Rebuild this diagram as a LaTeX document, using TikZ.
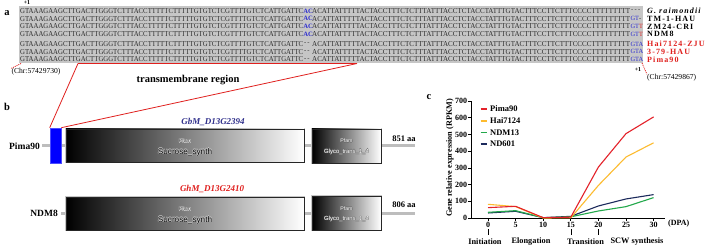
\documentclass[tikz,border=0pt]{standalone}
\usepackage{fontspec}
\setmainfont{Liberation Serif}
\newfontfamily\arialfont{Liberation Sans}
\newfontfamily\spacedfont[LetterSpace=14]{Liberation Serif}
\usetikzlibrary{calc}
\definecolor{seqgray}{HTML}{C6C6C6}
\definecolor{seqtext}{HTML}{2C2C2C}
\definecolor{acblue}{HTML}{2A2AD0}
\definecolor{lblred}{HTML}{E0201E}
\definecolor{gbblue}{HTML}{30308C}
\definecolor{bbgray}{HTML}{BDBDBD}
\definecolor{cred}{HTML}{E4222A}
\definecolor{cyel}{HTML}{FDBB2F}
\definecolor{cgreen}{HTML}{22A84A}
\definecolor{cnavy}{HTML}{1C2A5C}
\newcommand{\seqA}{GTAAAGAAGCTTGACTTGGGTCTTTACCTTTTTCTTTTTGTGTCTCGTTTTGTCTCATTGATTC}
\newcommand{\seqB}{ACATTATTTTTACTACCTTTCTCTTTATTTACCTCTACCTATTTGTACTTTCCTTCTTTCCCCTTTTTTTTT}
\newcommand{\halotxt}[3]{%
  \makebox[0pt][l]{\color{#1}\kern-0.4pt #3}%
  \makebox[0pt][l]{\color{#1}\kern0.4pt #3}%
  \makebox[0pt][l]{\color{#1}\raisebox{0.4pt}{#3}}%
  \makebox[0pt][l]{\color{#1}\raisebox{-0.4pt}{#3}}%
  {\color{#2}#3}}
\tikzset{
  seqpart/.style={inner sep=0pt, text=seqtext, font=\fontsize{7}{7}\selectfont, anchor=west},
  seqend/.style={inner sep=0pt, font=\fontsize{6.4}{6.4}\selectfont, anchor=west},
  acmark/.style={inner sep=0pt, font=\fontsize{6.6}{6.6}\selectfont\bfseries, text=acblue, anchor=west},
  dashmark/.style={inner sep=0pt, font=\fontsize{6.6}{6.6}\selectfont, text=seqtext, anchor=west},
  strain/.style={inner sep=0pt, anchor=west, font=\spacedfont\fontsize{8}{8}\selectfont\bfseries},
  panel/.style={inner sep=0pt, font=\fontsize{10.5}{10.5}\selectfont\bfseries},
  chrtxt/.style={inner sep=0pt, font=\fontsize{7.6}{7.6}\selectfont},
  plusone/.style={inner sep=0pt, font=\fontsize{6}{6}\selectfont\bfseries},
  redlink/.style={draw=lblred, line width=0.8pt},
  reddot/.style={draw=lblred, line width=0.8pt, dash pattern=on 1pt off 1pt},
  backbone/.style={draw=bbgray, line width=3pt},
  dombox/.style={inner sep=0pt, left color=black, right color=white, draw=black!85, line width=0.9pt,
     preaction={draw=gray!45, line width=2.8pt}},
  genelbl/.style={inner sep=0pt, font=\fontsize{9.5}{9.5}\selectfont\bfseries},
  genename/.style={inner sep=0pt, font=\fontsize{9}{9}\selectfont\bfseries\itshape},
  aalbl/.style={inner sep=0pt, font=\fontsize{8.5}{8.5}\selectfont\bfseries},
  pfam/.style={inner sep=0pt, font=\arialfont\fontsize{5.2}{5.2}\selectfont},
  domname/.style={inner sep=0pt, font=\arialfont\fontsize{8.2}{8.2}\selectfont},
  domsmall/.style={inner sep=0pt, font=\arialfont\fontsize{5.9}{5.9}\selectfont},
  axlbl/.style={inner sep=0pt, font=\fontsize{8}{8}\selectfont\bfseries},
  leglbl/.style={inner sep=0pt, anchor=west, font=\fontsize{8.5}{8.5}\selectfont\bfseries},
  stagelbl/.style={inner sep=0pt, font=\fontsize{8.3}{8.3}\selectfont\bfseries},
  dataline/.style={line width=1.1pt, line join=round},
}
\begin{document}
\begin{tikzpicture}[x=1pt, y=-1pt]
\useasboundingbox (0,0) rectangle (708,248);
\fill[white] (0,0) rectangle (708,248);
% ---------------- panel a ----------------
\node[panel] (pa) at (7,13) {a};
\fill[seqgray] (19,6) rectangle (643,63.5);
\node[plusone] (p1top) at (27,3) {+1};
\foreach \i/\yy in {1/11,2/18.7,3/26.4,4/34.1,5/44,6/51.7,7/59.4}{
  \node[seqpart] (pre\i) at (20,\yy) {\resizebox{283pt}{5pt}{\seqA}};
  \node[seqpart] (mid\i) at (312,\yy) {\resizebox{318pt}{5pt}{\seqB}};
}
\foreach \i/\yy in {1/11,2/18.7,3/26.4,4/34.1}{
  \node[acmark] (ac\i) at (303.2,\yy) {AC};
}
\foreach \i/\yy in {5/44,6/51.7,7/59.4}{
  \node[dashmark] (dash\i) at (303.8,\yy) {-\kern1.2pt-};
  \node[seqend, text=acblue] (end\i) at (630.3,\yy) {GTA};
}
\node[seqend, text=seqtext] (end1) at (631,11) {-\kern1.3pt-\kern1.3pt-};
\node[seqend] (end2) at (630.3,18.7) {\textcolor{acblue}{GT}\textcolor{seqtext}{-}};
\node[seqend] (end3) at (630.3,26.4) {\textcolor{acblue}{GT}\textcolor{lblred}{T}};
\node[seqend] (end4) at (630.3,34.1) {\textcolor{acblue}{GT}\textcolor{lblred}{T}};
% strain labels
\node[strain] (st1) at (647,11) {\textit{G. raimondii}};
\node[strain] (st2) at (647,18.7) {TM-1-HAU};
\node[strain] (st3) at (647,26.4) {ZM24-CRI};
\node[strain] (st4) at (647,34.1) {NDM8};
\node[strain, text=lblred] (st5) at (647,44) {Hai7124-ZJU};
\node[strain, text=lblred] (st6) at (647,51.7) {3-79-HAU};
\node[strain, text=lblred] (st7) at (647,59.4) {Pima90};
\node[plusone] (p1bot) at (638,70) {+1};
% chromosome positions
\coordinate (cl0) at (21,63.5);
\node[chrtxt] (chrL) at (36,72) {(Chr:57429730)};
\draw[reddot] (cl0) -- (chrL.north west);
\coordinate (cr0) at (642,63);
\node[chrtxt, anchor=west] (chrR) at (647,78) {(Chr:57429867)};
\draw[reddot] (cr0) -- (chrR.north west);
\node[inner sep=0pt, font=\fontsize{10.5}{10.5}\selectfont\bfseries] (tmtxt) at (188,80) {transmembrane region};
% ---------------- panel b ----------------
\node[panel] (pb) at (7,107) {b};
\draw[backbone] (42,146) -- (415,146);
\draw[backbone] (61,213) -- (415,213);
\node[inner sep=0pt, minimum width=11pt, minimum height=35pt, fill=blue, draw=blue!70!white, line width=0.6pt] (tm) at (55.5,145.5) {};
\coordinate (tmL) at (78,63.5);
\coordinate (tmR) at (357,63.5);
\draw[redlink] (tmL) -- (tmR);
\draw[redlink] (tmL) -- (tm.north west);
\draw[redlink] (tmR) -- (tm.north east);
% Pima90 gene
\node[dombox, minimum width=238pt, minimum height=33pt] (pS) at (185,145.5) {};
\node[dombox, minimum width=69pt, minimum height=34pt] (pG) at (346.5,146) {};
\node[pfam] (pSp) at (185,141) {\halotxt{white}{black!85}{Pfam}};
\node[domname] (pSn) at (185,152) {\halotxt{white!85!black}{black}{Sucrose\_synth}};
\node[pfam] (pGp) at (346.5,141) {\halotxt{black!60}{white}{Pfam}};
\node[domsmall] (pGn) at (346.5,151.5) {\halotxt{black!60}{white}{Glyco\_trans\_1\_4}};
\node[genelbl, anchor=east] (lPima) at (40,146) {Pima90};
\node[genename, text=gbblue] (gGb) at (213,122) {GbM\_D13G2394};
\node[aalbl] (aa1) at (404,139) {851 aa};
% NDM8 gene
\node[dombox, minimum width=238pt, minimum height=33pt] (nS) at (185,213.5) {};
\node[dombox, minimum width=69pt, minimum height=34pt] (nG) at (346.5,213) {};
\node[pfam] (nSp) at (185,209) {\halotxt{white}{black!85}{Pfam}};
\node[domname] (nSn) at (185,220) {\halotxt{white!85!black}{black}{Sucrose\_synth}};
\node[pfam] (nGp) at (346.5,208.5) {\halotxt{black!60}{white}{Pfam}};
\node[domsmall] (nGn) at (346.5,219) {\halotxt{black!60}{white}{Glyco\_trans\_1\_4}};
\node[genelbl, anchor=east] (lNDM) at (58,213) {NDM8};
\node[genename, text=lblred] (gGh) at (212,189) {GhM\_D13G2410};
\node[aalbl] (aa2) at (404,205) {806 aa};
% ---------------- panel c ----------------
\node[panel] (pc) at (429,97) {c};
\node[axlbl, rotate=90, font=\fontsize{8.2}{8.2}\selectfont\bfseries] (ylab) at (450,158) {Gene relative expression (RPKM)};
\begin{scope}[shift={(488pt,-218pt)}, x=5.52pt, y=0.1671pt]
  \draw[line width=0.8pt] (-3.07,700) -- (-3.07,0) -- (32,0);
  \foreach \v in {0,100,...,700}{
    \draw[line width=0.7pt] (-3.07,\v) -- (-3.6,\v);
    \node[axlbl, anchor=east] (yt\v) at (-3.75,\v) {\v};
  }
  \foreach \d in {0,5,...,30}{
    \draw[line width=0.7pt] (\d,0) -- (\d,-15);
    \node[axlbl, anchor=north] (xt\d) at (\d,-22) {\d};
  }
  \node[axlbl, anchor=west] (dpa) at (32.6,-36) {(DPA)};
  \draw[dataline, cnavy] (0,30) -- (5,40) -- (10,2) -- (15,10) -- (20,72) -- (25,114) -- (30,140);
  \draw[dataline, cgreen] (0,34) -- (5,44) -- (10,2) -- (15,7) -- (20,42) -- (25,68) -- (30,122);
  \draw[dataline, cyel] (0,82) -- (5,68) -- (10,0) -- (15,1) -- (20,195) -- (25,365) -- (30,450);
  \draw[dataline, cred] (0,62) -- (5,70) -- (10,2) -- (15,5) -- (20,305) -- (25,505) -- (30,605);
\end{scope}
% legend
\draw[line width=1.3pt, cred] (480.5,109) -- (487,109);
\node[leglbl] (lg1) at (490,109) {Pima90};
\draw[line width=1.3pt, cyel] (480.5,121) -- (487,121);
\node[leglbl] (lg2) at (490,121) {Hai7124};
\draw[line width=1.3pt, cgreen] (480.5,132.5) -- (487,132.5);
\node[leglbl] (lg3) at (490,132.5) {NDM13};
\draw[line width=1.3pt, cnavy] (480.5,144) -- (487,144);
\node[leglbl] (lg4) at (490,144) {ND601};
% stages
\draw[line width=0.6pt] (488,229) -- (488,235);
\draw[line width=0.6pt] (571,229) -- (571,235);
\draw[line width=0.6pt] (598,229) -- (598,235);
\node[stagelbl] (sg1) at (485,242) {Initiation};
\node[stagelbl] (sg2) at (531,242) {Elongation};
\node[stagelbl] (sg3) at (585.5,242) {Transition};
\node[stagelbl] (sg4) at (637,242) {SCW synthesis};
\end{tikzpicture}
\end{document}
